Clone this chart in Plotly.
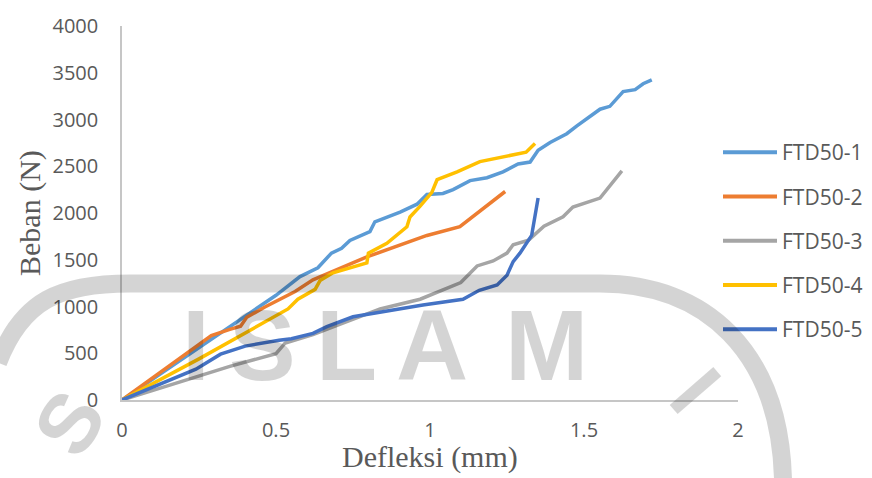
import plotly.graph_objects as go

# Load-deflection readings for each FTD50 specimen
defl_1 = [0, 0.25, 0.4, 0.5, 0.578, 0.636, 0.68, 0.713, 0.74, 0.805, 0.821, 0.903, 0.958, 0.99,
          1.042, 1.075, 1.13, 1.185, 1.237, 1.286, 1.325, 1.351, 1.39, 1.444, 1.477, 1.519,
          1.552, 1.584, 1.627, 1.666, 1.692, 1.72]
load_1 = [0, 560, 900, 1120, 1320, 1414, 1571, 1623, 1707, 1801, 1906, 2010, 2094, 2199,
          2209, 2251, 2346, 2377, 2440, 2524, 2545, 2670, 2754, 2848, 2932, 3037,
          3110, 3141, 3298, 3319, 3382, 3424]

defl_2 = [0, 0.29, 0.35, 0.385, 0.405, 0.464, 0.562, 0.62, 0.795, 0.99, 1.097, 1.244]
load_2 = [0, 690, 755, 790, 885, 995, 1160, 1285, 1530, 1760, 1853, 2230]

defl_3 = [0, 0.24, 0.35, 0.50, 0.53, 0.62, 0.73, 0.838, 0.968, 1.07, 1.10, 1.153, 1.205,
          1.25, 1.27, 1.32, 1.37, 1.432, 1.464, 1.552, 1.623]
load_3 = [0, 250, 360, 495, 610, 700, 838, 974, 1078, 1215, 1256, 1434, 1487,
          1571, 1660, 1710, 1860, 1960, 2063, 2160, 2450]

defl_4 = [0, 0.25, 0.539, 0.571, 0.627, 0.643, 0.685, 0.795, 0.80, 0.86, 0.925, 0.935,
          0.968, 1.006, 1.023, 1.088, 1.162, 1.312, 1.341]
load_4 = [0, 440, 974, 1078, 1183, 1277, 1361, 1466, 1571, 1675, 1853, 1958,
          2073, 2220, 2356, 2440, 2550, 2650, 2743]

defl_5 = [0, 0.24, 0.32, 0.40, 0.51, 0.55, 0.62, 0.665, 0.75, 0.838, 0.977, 1.107, 1.16,
          1.218, 1.25, 1.27, 1.292, 1.33, 1.351]
load_5 = [0, 330, 490, 576, 640, 655, 712, 785, 890, 942, 1016, 1078, 1173,
          1230, 1335, 1480, 1571, 1760, 2160]

series_names = ["FTD50-1", "FTD50-2", "FTD50-3", "FTD50-4", "FTD50-5"]
series_x = [defl_1, defl_2, defl_3, defl_4, defl_5]
series_y = [load_1, load_2, load_3, load_4, load_5]
series_colors = ["#5B9BD5", "#ED7D31", "#A5A5A5", "#FFC000", "#4472C4"]

x_title = "Defleksi (mm)"
y_title = "Beban (N)"

W, H = 872, 478
L, R, T, B = 122, 134, 18, 78
PW, PH = W - L - R, H - T - B


def paper(px, py):
    """Pixel position in the page -> paper coordinates."""
    return (px - L) / PW, (H - B - py) / PH


fig = go.Figure()
for name, xs, ys, col in zip(series_names, series_x, series_y, series_colors):
    fig.add_trace(go.Scatter(
        x=xs, y=ys, mode="lines", name=name, showlegend=False,
        line=dict(color=col, width=3.5),
    ))

shapes = []
annotations = []

# Legend drawn on the right with long line samples
for i, (name, col) in enumerate(zip(series_names, series_colors)):
    py = 147 + 45.2 * i
    x0, y0 = paper(723, py)
    x1, _ = paper(777, py)
    shapes.append(dict(type="line", xref="paper", yref="paper", x0=x0, x1=x1, y0=y0, y1=y0,
                       line=dict(color=col, width=4)))
    tx, _ = paper(780, py)
    annotations.append(dict(text=name, xref="paper", yref="paper", x=tx, y=y0,
                            xanchor="left", yanchor="middle", showarrow=False,
                            font=dict(family="Open Sans", size=21, color="#595959")))

# Axis titles
ax, ay = paper(430, 458)
annotations.append(dict(text=x_title, xref="paper", yref="paper", x=ax, y=ay,
                        xanchor="center", yanchor="middle", showarrow=False,
                        font=dict(family="Liberation Serif", size=30, color="#595959")))
bx, by = paper(30, 209)
annotations.append(dict(text=y_title, xref="paper", yref="paper", x=bx, y=by, textangle=-90,
                        xanchor="center", yanchor="middle", showarrow=False,
                        font=dict(family="Liberation Serif", size=30, color="#595959")))

# Faint "ISLAM" seal printed across the page
wm = "rgba(0,0,0,0.17)"


def pt(px, py):
    x, y = paper(px, py)
    return f"{x:.4f},{y:.4f}"


ring = (f"M {pt(-2, 362)} C {pt(22, 298)} {pt(60, 281)} {pt(130, 281)} "
        f"L {pt(600, 281)} C {pt(705, 281)} {pt(780, 350)} {pt(783, 482)}")
shapes.append(dict(type="path", xref="paper", yref="paper", path=ring, layer="above",
                   line=dict(color=wm, width=18)))

for ch, cx in zip("ISLAM", [196, 262, 346, 432, 546]):
    lx, ly = paper(cx, 344)
    annotations.append(dict(text=f"<b>{ch}</b>", xref="paper", yref="paper", x=lx, y=ly,
                            xanchor="center", yanchor="middle", showarrow=False, height=76,
                            font=dict(family="Liberation Sans", size=100, color=wm)))

for ch, (cx, cy), ang in [("S", (70, 424), -58), ("I", (695, 390), 49)]:
    lx, ly = paper(cx, cy)
    annotations.append(dict(text=f"<b>{ch}</b>", xref="paper", yref="paper", x=lx, y=ly,
                            textangle=ang, xanchor="center", yanchor="middle",
                            showarrow=False,
                            font=dict(family="Liberation Sans", size=84, color=wm)))

fig.update_layout(
    width=W, height=H,
    margin=dict(l=L, r=R, t=T, b=B, pad=0),
    paper_bgcolor="white", plot_bgcolor="white",
    showlegend=False,
    shapes=shapes, annotations=annotations,
    font=dict(family="Open Sans", color="#595959"),
)
fig.update_xaxes(range=[0, 2], dtick=0.5, tick0=0, showgrid=False, zeroline=False,
                 showline=True, linecolor="#C6C6C6", linewidth=1.5, ticks="",
                 ticklabelstandoff=11, tickfont=dict(family="Open Sans", size=20, color="#595959"))
fig.update_yaxes(range=[0, 4000], dtick=500, tick0=0, tickformat="d", showgrid=False,
                 zeroline=False, showline=True, linecolor="#C6C6C6", linewidth=1.5, ticks="",
                 ticklabelstandoff=18, tickfont=dict(family="Open Sans", size=20, color="#595959"))

fig.write_html("out.html")
